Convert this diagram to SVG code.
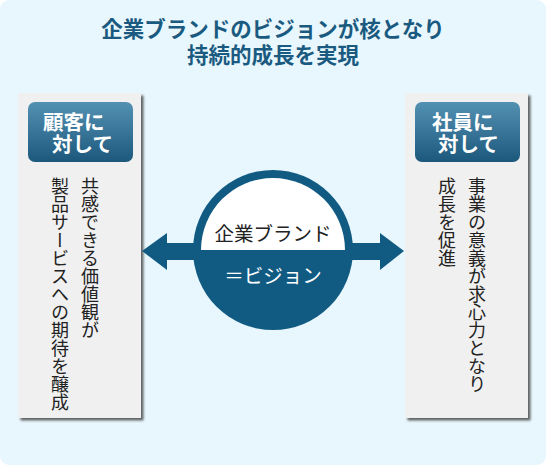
<svg xmlns="http://www.w3.org/2000/svg" width="547" height="466" viewBox="0 0 547 466">
<defs>
<linearGradient id="badge" x1="0" y1="0" x2="0" y2="1">
<stop offset="0" stop-color="#5391b3"/>
<stop offset="1" stop-color="#1c587c"/>
</linearGradient>
<filter id="sh" x="-10%" y="-10%" width="130%" height="130%">
<feDropShadow dx="2.5" dy="2.5" stdDeviation="1.2" flood-color="#333" flood-opacity="0.75"/>
</filter>
</defs>
<style>
.jp{font-family:"Noto Sans CJK JP","Noto Sans",sans-serif}
.title{font-size:21.5px;font-weight:bold;fill:#1a5a80}
.badge-t{font-size:20.5px;font-weight:bold;fill:#ffffff}
.vt{font-size:18px;fill:#222;writing-mode:vertical-rl}
.panel{fill:#f0f0f0}
</style>
<rect x="0" y="0" width="546" height="465" rx="9" fill="#e8f7fd"/>
<g id="title" class="jp title" text-anchor="middle">
<text x="273" y="37">企業ブランドのビジョンが核となり</text>
<text x="273" y="63">持続的成長を実現</text>
</g>
<g id="left-panel">
<rect class="panel" x="18" y="93" width="123" height="325" filter="url(#sh)"/>
<rect x="28" y="102" width="105" height="60" rx="7" fill="url(#badge)"/>
<text class="jp badge-t" x="43" y="130">顧客に</text>
<text class="jp badge-t" x="52" y="152">対して</text>
<text class="jp vt" x="90" y="177">共感できる価値観が</text>
<text class="jp vt" x="60" y="177">製品サービスへの期待を醸成</text>
</g>
<g id="right-panel">
<rect class="panel" x="405" y="93" width="123" height="325" filter="url(#sh)"/>
<rect x="415" y="102" width="105" height="60" rx="7" fill="url(#badge)"/>
<text class="jp badge-t" x="432" y="130">社員に</text>
<text class="jp badge-t" x="438" y="152">対して</text>
<text class="jp vt" x="477" y="177">事業の意義が求心力となり</text>
<text class="jp vt" x="447" y="177">成長を促進</text>
</g>
<g id="connectors">
<polygon fill="#115b83" points="142,251 167,233 167,243 380,243 380,233 404,251 380,270 380,260 167,260 167,270"/>
</g>
<g id="center">
<circle cx="273" cy="250" r="80" fill="#115b83"/>
<path d="M201,250 A72,72 0 0 1 345,250 Z" fill="#ffffff"/>
<text class="jp" x="273" y="241" text-anchor="middle" font-size="19.5" fill="#222">企業ブランド</text>
<text class="jp" x="273" y="283" text-anchor="middle" font-size="19.5" fill="#ffffff">＝ビジョン</text>
</g>
</svg>
